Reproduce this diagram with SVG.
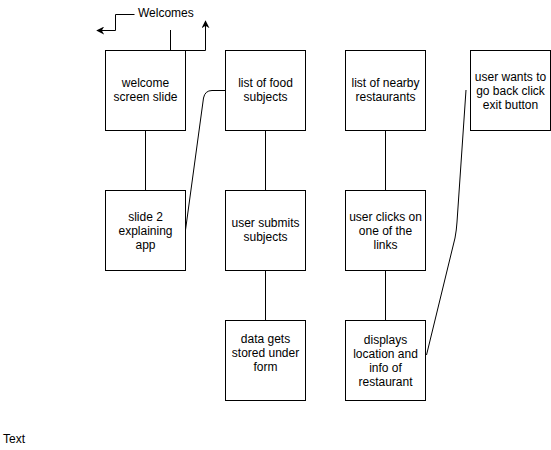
<svg xmlns="http://www.w3.org/2000/svg" width="551" height="450" viewBox="0 0 551 450">
<style>
.box{fill:#fff;stroke:#000;stroke-width:1}
.ln{fill:none;stroke:#000;stroke-width:1}
text{font-family:"Liberation Sans",Arial,sans-serif;font-size:12px;fill:#000}
.c{text-anchor:middle}
</style>
<defs>
<marker id="ah" viewBox="0 0 10 10" refX="9" refY="5" markerWidth="8" markerHeight="8" orient="auto" markerUnits="userSpaceOnUse">
<path d="M0,0 L10,5 L0,10 L3,5 Z" fill="#000"/>
</marker>
</defs>
<rect width="551" height="450" fill="#fff"/>
<g id="connectors">
<polyline class="ln" points="134.5,14.5 115.5,14.5 115.5,30.5 97,30.5" marker-end="url(#ah)"/>
<polyline class="ln" points="170.5,30 170.5,50.5 205.5,50.5 205.5,21" marker-end="url(#ah)"/>
<line class="ln" x1="145.5" y1="130" x2="145.5" y2="190"/>
<line class="ln" x1="265.5" y1="130" x2="265.5" y2="190"/>
<line class="ln" x1="265.5" y1="270" x2="265.5" y2="320"/>
<line class="ln" x1="385.5" y1="130" x2="385.5" y2="190"/>
<line class="ln" x1="385.5" y1="270" x2="385.5" y2="320"/>
<path class="ln" d="M185.5,230 L203.5,98 Q205,90.5 212,90.5 L225,90.5"/>
<path class="ln" d="M426.5,355 L455,238 Q456.5,230 457,222 L466,90"/>
</g>
<g id="welcomes"><text x="138" y="17">Welcomes</text></g>
<g id="n1"><rect class="box" x="105.5" y="50.5" width="80" height="80"/><text class="c" x="145.5" y="87">welcome</text><text class="c" x="145.5" y="101">screen slide</text></g>
<g id="n2"><rect class="box" x="105.5" y="190.5" width="80" height="80"/><text class="c" x="145.5" y="221">slide 2</text><text class="c" x="145.5" y="235">explaining</text><text class="c" x="145.5" y="249">app</text></g>
<g id="n3"><rect class="box" x="225.5" y="50.5" width="80" height="80"/><text class="c" x="265.5" y="87">list of food</text><text class="c" x="265.5" y="101">subjects</text></g>
<g id="n4"><rect class="box" x="225.5" y="190.5" width="80" height="80"/><text class="c" x="265.5" y="227">user submits</text><text class="c" x="265.5" y="241">subjects</text></g>
<g id="n5"><rect class="box" x="225.5" y="320.5" width="80" height="80"/><text class="c" x="265.5" y="343">data gets</text><text class="c" x="265.5" y="357">stored under</text><text class="c" x="265.5" y="371">form</text></g>
<g id="n6"><rect class="box" x="345.5" y="50.5" width="80" height="80"/><text class="c" x="385.5" y="87">list of nearby</text><text class="c" x="385.5" y="101">restaurants</text></g>
<g id="n7"><rect class="box" x="345.5" y="190.5" width="80" height="80"/><text class="c" x="385.5" y="221">user clicks on</text><text class="c" x="385.5" y="235">one of the</text><text class="c" x="385.5" y="249">links</text></g>
<g id="n8"><rect class="box" x="345.5" y="320.5" width="80" height="80"/><text class="c" x="385.5" y="344">displays</text><text class="c" x="385.5" y="358">location and</text><text class="c" x="385.5" y="372">info of</text><text class="c" x="385.5" y="386">restaurant</text></g>
<g id="n9"><rect class="box" x="470.5" y="50.5" width="80" height="80"/><text class="c" x="510.5" y="81">user wants to</text><text class="c" x="510.5" y="95">go back click</text><text class="c" x="510.5" y="109">exit button</text></g>
<g id="label"><text x="3" y="443">Text</text></g>
</svg>
